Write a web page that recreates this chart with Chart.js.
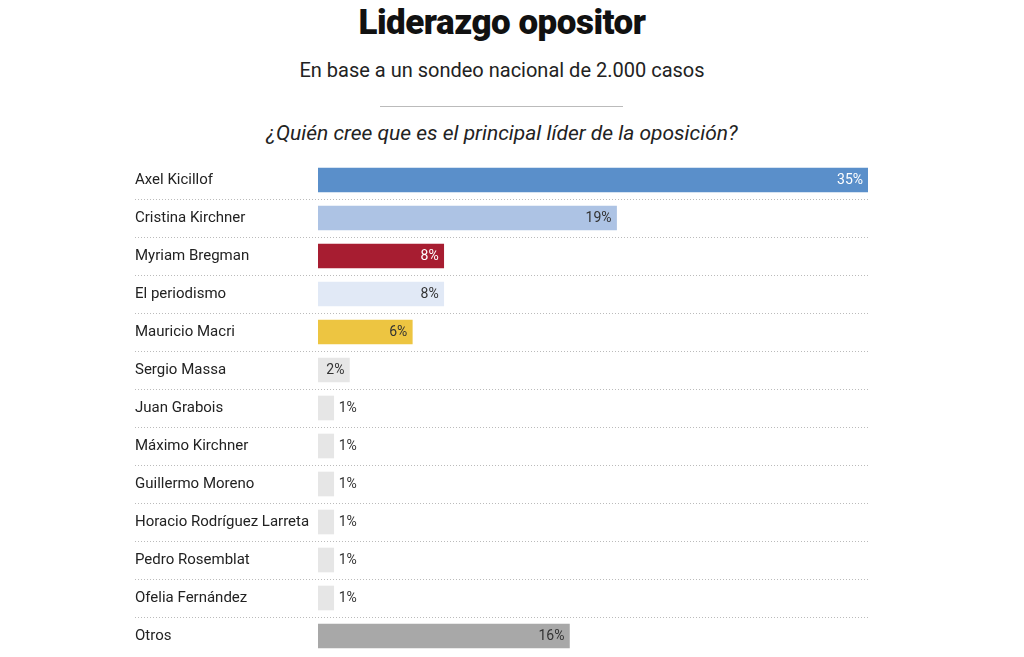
<!DOCTYPE html>
<html><head><meta charset="utf-8">
<script src="https://cdn.jsdelivr.net/npm/chart.js@4"></script>
<style>
body{margin:0;background:#fff;font-family:Roboto,"Open Sans",sans-serif;color:#111;}
#t{position:absolute;top:2px;width:1004px;text-align:center;font-weight:900;font-size:35px;letter-spacing:-0.5px}
#s{position:absolute;top:58px;width:1004px;text-align:center;font-size:20px;color:#222}
#hr{position:absolute;top:106px;left:380px;width:243px;height:1px;background:#bbb}
#q{position:absolute;top:121px;width:1004px;text-align:center;font-size:21px;font-style:italic;color:#222}
#wrap{position:absolute;top:155px;left:0;width:1024px;height:502px}
</style></head><body>
<div id="t">Liderazgo opositor</div>
<div id="s">En base a un sondeo nacional de 2.000 casos</div>
<div id="hr"></div>
<div id="q">¿Quién cree que es el principal líder de la oposición?</div>
<div id="wrap"><canvas id="c"></canvas></div>
<script>
const categories=["Axel Kicillof","Cristina Kirchner","Myriam Bregman","El periodismo","Mauricio Macri","Sergio Massa","Juan Grabois","Máximo Kirchner","Guillermo Moreno","Horacio Rodríguez Larreta","Pedro Rosemblat","Ofelia Fernández","Otros"];
const values=[35,19,8,8,6,2,1,1,1,1,1,1,16];
const colors=["#5a8fca","#adc3e4","#a71d31","#e1e9f6","#edc541","#e6e6e6","#e6e6e6","#e6e6e6","#e6e6e6","#e6e6e6","#e6e6e6","#e6e6e6","#a8a8a8"];
const labelColors=["#fff","#333","#fff","#333","#333","#333","#333","#333","#333","#333","#333","#333","#333"];
const deco={id:'deco',afterDatasetsDraw(ch){
 const ctx=ch.ctx,y=ch.scales.y,a=ch.chartArea,meta=ch.getDatasetMeta(0);
 ctx.save();ctx.font='15px Roboto';ctx.textBaseline='middle';
 categories.forEach((c,i)=>{
  const yc=y.getPixelForValue(i);
  ctx.fillStyle='#222';ctx.textAlign='left';ctx.fillText(c,135,yc);
  if(i<categories.length-1){ctx.strokeStyle='#bbb';ctx.setLineDash([1,2]);ctx.beginPath();ctx.moveTo(135,yc+19.5);ctx.lineTo(a.right,yc+19.5);ctx.stroke();}
  const bx=meta.data[i].x,t=values[i]+'%';
  ctx.font='14px Roboto';
  if(values[i]>=2){ctx.textAlign='right';ctx.fillStyle=labelColors[i];ctx.fillText(t,bx-5,yc);}
  else{ctx.textAlign='left';ctx.fillStyle='#333';ctx.fillText(t,bx+5,yc);}
  ctx.font='15px Roboto';
 });
 ctx.restore();}};
new Chart(document.getElementById('c'),{type:'bar',
 data:{labels:categories,datasets:[{data:values,backgroundColor:colors,barThickness:24,borderWidth:0}]},
 options:{indexAxis:'y',responsive:true,maintainAspectRatio:false,animation:false,
  layout:{padding:{left:318,right:156,top:6,bottom:2}},
  plugins:{legend:{display:false},tooltip:{enabled:false}},
  scales:{x:{display:false,min:0,max:35},y:{display:false}}},
 plugins:[deco]});
</script></body></html>
